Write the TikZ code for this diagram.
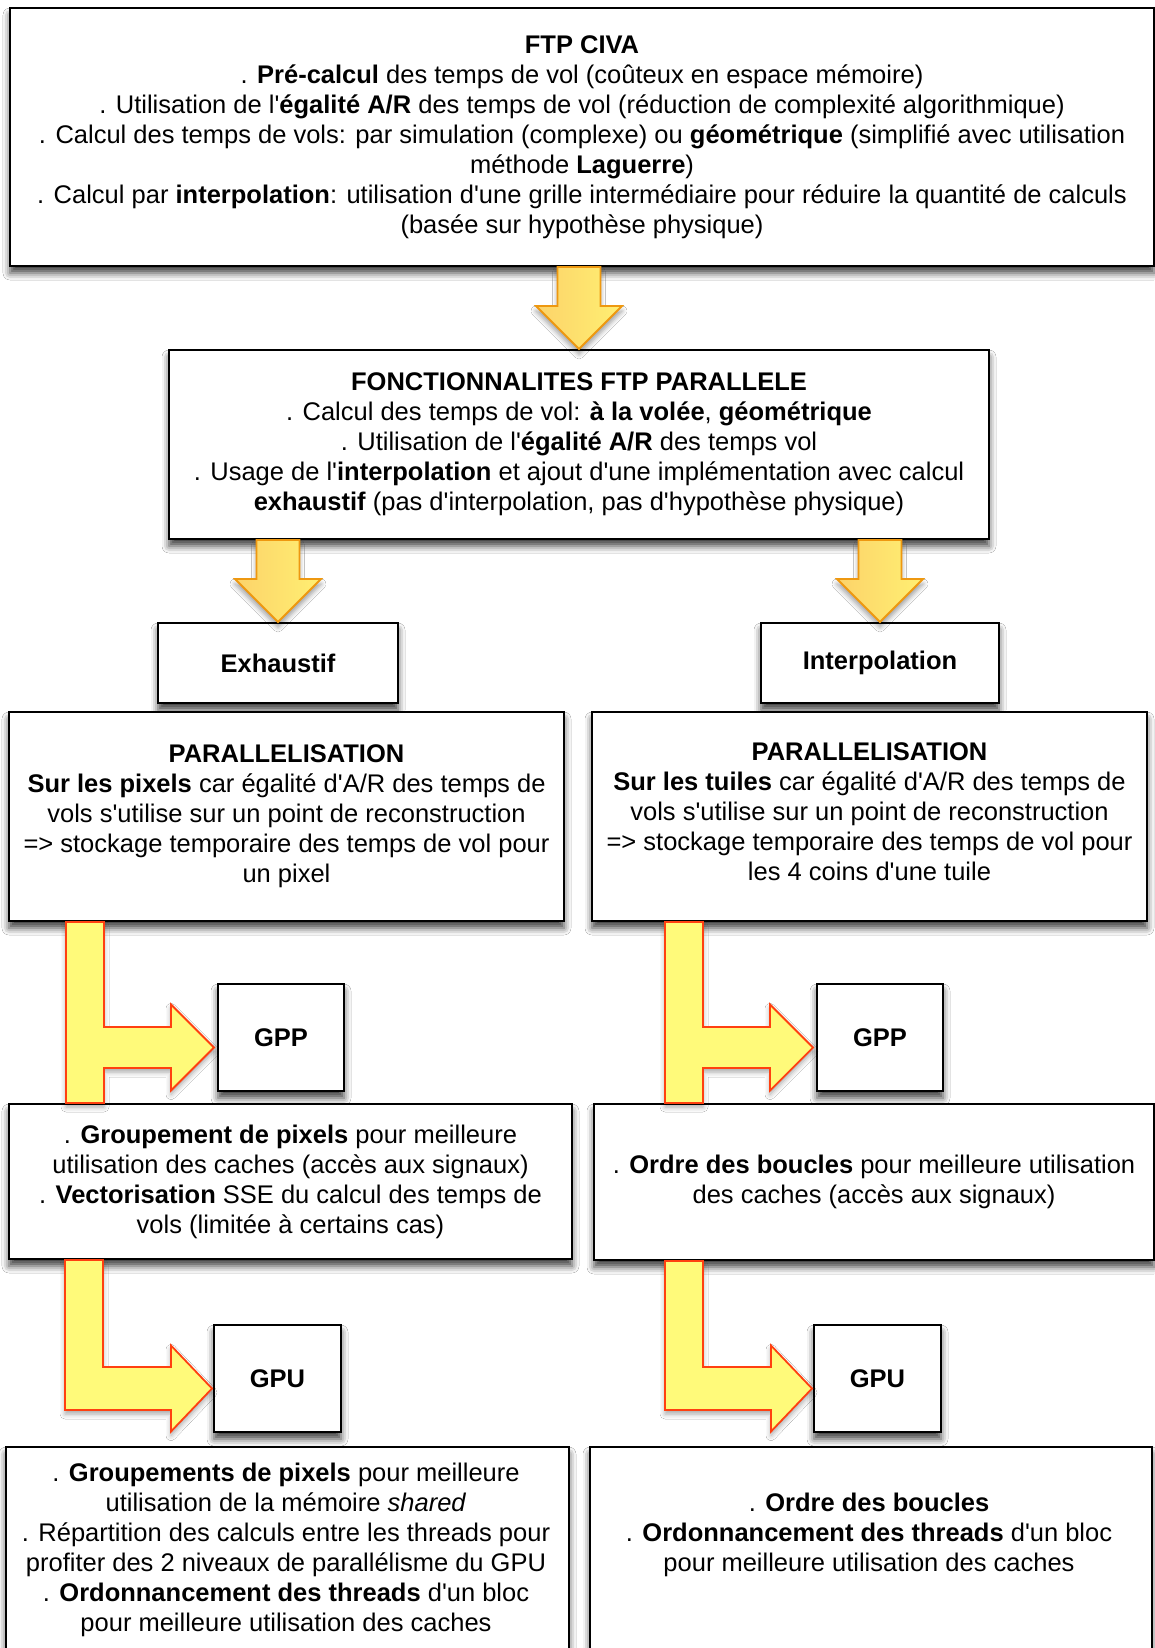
\documentclass[tikz,border=0pt]{standalone}
\usepackage{fontspec}
\setmainfont{Liberation Sans}[Ligatures=TeXOff]
\usetikzlibrary{calc,shadows.blur}
\definecolor{arrowleft}{HTML}{FCD36A}
\definecolor{arrowright}{HTML}{FFEF72}
\definecolor{arrowedge}{HTML}{EE9810}
\definecolor{lfill}{HTML}{FFFA7A}
\definecolor{ledge}{HTML}{FF4010}
\tikzset{
  box/.style={draw=black, line width=2pt, fill=white, inner sep=0pt, align=center,
    font=\fontsize{25.5}{30}\selectfont,
    blur shadow={shadow xshift=0pt, shadow yshift=-7pt, shadow blur radius=7pt, shadow opacity=75}},
  txt/.style={inner sep=0pt, align=center, font=\fontsize{25.5}{30}\selectfont},
  downarrow/.style={draw=arrowedge, line width=1.8pt, line join=miter,
    left color=arrowleft, right color=arrowright,
    blur shadow={shadow xshift=0pt, shadow yshift=-5pt, shadow blur radius=5pt, shadow opacity=40}},
  larrow/.style={draw=ledge, fill=lfill, line width=1.8pt, line join=miter,
    blur shadow={shadow xshift=0pt, shadow yshift=-4pt, shadow blur radius=5pt, shadow opacity=35}}
}
\newcommand\fatdown[2]{%
  \path[downarrow] let \p1=(#1.south), \p2=(#2.north) in
  (\x2-21.5pt,\y1) -- (\x2-21.5pt,\y2+43pt) -- (\x2-43pt,\y2+43pt) -- (\x2,\y2)
  -- (\x2+43pt,\y2+43pt) -- (\x2+21.5pt,\y2+43pt) -- (\x2+21.5pt,\y1) -- cycle;}
\newcommand\teearrow[3]{%
  \path[larrow] let \p1=(#1.south), \p2=(#2.north), \p3=(#3.west) in
  (\x3-151pt,\y1) -- (\x3-113pt,\y1) -- (\x3-113pt,\y3+10.5pt) -- (\x3-46pt,\y3+10.5pt)
  -- (\x3-46pt,\y3+33pt) -- (\x3-3pt,\y3-10pt) -- (\x3-46pt,\y3-53pt) -- (\x3-46pt,\y3-30.5pt)
  -- (\x3-113pt,\y3-30.5pt) -- (\x3-113pt,\y2) -- (\x3-151pt,\y2) -- cycle;}
\newcommand\ellarrow[2]{%
  \path[larrow] let \p1=(#1.south), \p3=(#2.west) in
  (\x3-148pt,\y1) -- (\x3-110pt,\y1) -- (\x3-110pt,\y3+11.5pt) -- (\x3-42pt,\y3+11.5pt)
  -- (\x3-42pt,\y3+33pt) -- (\x3-1pt,\y3-10pt) -- (\x3-42pt,\y3-53pt) -- (\x3-42pt,\y3-31.5pt)
  -- (\x3-148pt,\y3-31.5pt) -- cycle;}
\begin{document}
\begin{tikzpicture}[x=1pt,y=-1pt]
\useasboundingbox (0,0) rectangle (1155,1648);
\clip (0,0) rectangle (1155,1648);
\fill[white] (0,0) rectangle (1155,1648);

\node[box, minimum width=1144pt, minimum height=258pt] (civa) at (582,137)
 {\textbf{FTP CIVA}\\
  . \textbf{Pré-calcul} des temps de vol (coûteux en espace mémoire)\\
  . Utilisation de l'\textbf{égalité A/R} des temps de vol (réduction de complexité algorithmique)\\
  . Calcul des temps de vols: par simulation (complexe) ou \textbf{géométrique} (simplifié avec utilisation\\
  méthode \textbf{Laguerre})\\
  . Calcul par \textbf{interpolation}: utilisation d'une grille intermédiaire pour réduire la quantité de calculs\\
  (basée sur hypothèse physique)};

\node[box, minimum width=820pt, minimum height=189pt] (par) at (579,444.5)
 {\textbf{FONCTIONNALITES FTP PARALLELE}\\
  . Calcul des temps de vol: \textbf{à la volée}, \textbf{géométrique}\\
  . Utilisation de l'\textbf{égalité A/R} des temps vol\\
  . Usage de l'\textbf{interpolation} et ajout d'une implémentation avec calcul\\
  \textbf{exhaustif} (pas d'interpolation, pas d'hypothèse physique)};

\node[box, minimum width=240pt, minimum height=80pt] (exh) at (278,663) {\textbf{Exhaustif}};
\node[box, minimum width=238pt, minimum height=80pt] (interp) at (880,663) {\textbf{Interpolation}};

\node[box, minimum width=555pt, minimum height=209pt] (paraL) at (286.5,816.5)
 {\textbf{PARALLELISATION}\\
  \textbf{Sur les pixels} car égalité d'A/R des temps de\\
  vols s'utilise sur un point de reconstruction\\
  => stockage temporaire des temps de vol pour\\
  un pixel};
\node[box, minimum width=555pt, minimum height=209pt] (paraR) at (869.5,816.5)
 {\textbf{PARALLELISATION}\\
  \textbf{Sur les tuiles} car égalité d'A/R des temps de\\
  vols s'utilise sur un point de reconstruction\\
  => stockage temporaire des temps de vol pour\\
  les 4 coins d'une tuile\strut};

\node[box, minimum width=126pt, minimum height=107pt] (gppL) at (281,1037.5) {\textbf{GPP}};
\node[box, minimum width=126pt, minimum height=107pt] (gppR) at (880,1037.5) {\textbf{GPP}};

\node[box, minimum width=563pt, minimum height=155pt] (midL) at (290.5,1181.5)
 {. \textbf{Groupement de pixels} pour meilleure\\
  utilisation des caches (accès aux signaux)\\
  . \textbf{Vectorisation} SSE du calcul des temps de\\
  vols (limitée à certains cas)};
\node[box, minimum width=560pt, minimum height=156pt] (midR) at (874,1182)
 {. \textbf{Ordre des boucles} pour meilleure utilisation\\
  des caches (accès aux signaux)};

\node[box, minimum width=127pt, minimum height=107pt] (gpuL) at (277.5,1378.5) {\textbf{GPU}};
\node[box, minimum width=127pt, minimum height=107pt] (gpuR) at (877.5,1378.5) {\textbf{GPU}};

\node[box, minimum width=563pt, minimum height=260pt, anchor=north] (botL) at (287.5,1446) {};
\node[txt] (botLtxt) at (286,1550)
 {. \textbf{Groupements de pixels} pour meilleure\\
  utilisation de la mémoire \textit{shared}\\
  . Répartition des calculs entre les threads pour\\
  profiter des 2 niveaux de parallélisme du GPU\\
  . \textbf{Ordonnancement des threads} d'un bloc\\
  pour meilleure utilisation des caches};
\node[box, minimum width=562pt, minimum height=260pt, anchor=north] (botR) at (871,1446) {};
\node[txt] (botRtxt) at (869,1535)
 {. \textbf{Ordre des boucles}\\
  . \textbf{Ordonnancement des threads} d'un bloc\\
  pour meilleure utilisation des caches};

\fatdown{civa}{par}
\fatdown{par}{exh}
\fatdown{par}{interp}
\teearrow{paraL}{midL}{gppL}
\teearrow{paraR}{midR}{gppR}
\ellarrow{midL}{gpuL}
\ellarrow{midR}{gpuR}
\end{tikzpicture}
\end{document}
